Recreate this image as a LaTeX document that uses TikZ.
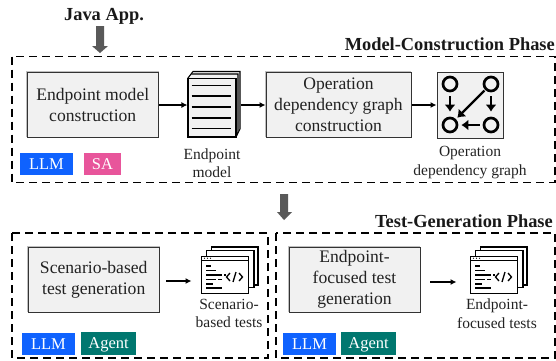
\documentclass[tikz,border=0pt]{standalone}
\usepackage{fontspec}
\setmainfont{Liberation Serif}
\usetikzlibrary{arrows.meta}
\definecolor{llmc}{HTML}{0F62FE}
\definecolor{sac}{HTML}{E8559B}
\definecolor{agc}{HTML}{00776F}
\definecolor{boxc}{HTML}{F1F1F1}
\definecolor{txtc}{HTML}{222222}
\tikzset{
  phase/.style={draw=black,line width=1.4pt,dash pattern=on 8pt off 5pt},
  procbox/.style={draw=black!80,line width=1pt,fill=boxc,inner sep=0pt,text=txtc,align=center,font=\fontsize{17.6}{21}\selectfont},
  boxedge/.style={draw=black!25,line width=1pt},
  chip/.style={inner sep=0pt,text=white,text height=10.5pt,text depth=0pt,font=\fontsize{16.5}{18}\selectfont},
  captxt/.style={text=txtc,align=center,inner sep=0pt,font=\fontsize{15.5}{18.5}\selectfont},
  title/.style={inner sep=0pt,font=\fontsize{18.4}{20}\selectfont\bfseries,text=black!90},
  flow/.style={-{Latex[length=6pt,width=6pt]},line width=1.6pt,black},
  bigarrow/.style={fill=black!65,draw=none},
  page/.style={draw=black,line width=1.1pt,fill=boxc},
  win/.style={draw=black,line width=1.4pt,fill=white},
  icon/.style={draw=black!80,line width=1pt,fill=boxc},
  ring/.style={circle,draw=black,line width=2.7pt,minimum size=14pt,inner sep=0pt},
  iarrow/.style={-{Latex[length=7pt,width=11pt]},line width=2.2pt,black,shorten >=5pt,shorten <=4pt},
  tl/.style={line width=1.1pt,black},
}
% box: name, x0,y0,x1,y1, text
\newcommand{\pbox}[6]{%
  \draw[boxedge] (#2-0.8,#5) -- (#2-0.8,#3-0.8) -- (#4,#3-0.8);
  \node[procbox,minimum width=#4-#2,minimum height=#5-#3] (#1) at ({(#2+#4)/2},{(#3+#5)/2}) {#6};}
\newcommand{\chipn}[7]{%
  \node[chip,fill=#6,minimum width=#4-#2,minimum height=#5-#3] (#1) at ({(#2+#4)/2},{(#3+#5)/2}) {#7};}
% code icon: name, x0, y0 of the front window (47 x 37)
\newcommand{\codeicon}[3]{%
\begin{scope}[shift={(#2,#3)}]
  \draw[win,line width=1.2pt] (10.5,-9) rectangle (57,29);
  \draw[win,line width=1.2pt] (5.5,-5.5) rectangle (53,31.5);
  \node[win,inner sep=0pt,minimum width=47pt,minimum height=37pt,anchor=north west] (#1) at (0,0) {};
  \draw[black,line width=1.1pt] (0,4.6) -- (47,4.6);
  \foreach \a in {3.5,6.5,9.5}{\fill (\a,2.2) circle (0.7pt);}
  \foreach \yy/\xa/\xb in {10/5/10, 14.5/5/15, 19/5/21, 19/23/25, 23.5/5/15, 23.5/17/21, 28/5/12, 32/5/21}{
    \draw[tl] (\xa,\yy) -- (\xb,\yy);}
  \draw[black,line width=1.3pt] (29,17) -- (25.5,21) -- (29,25);
  \draw[black,line width=1.3pt] (32,26) -- (35,16);
  \draw[black,line width=1.3pt] (38,17) -- (41.5,21) -- (38,25);
\end{scope}}
\begin{document}
\begin{tikzpicture}[x=1pt,y=-1pt]
\useasboundingbox (0,0) rectangle (556,360);
% big arrows
\fill[bigarrow] (96,26) -- (104,26) -- (104,46) -- (108,46) -- (100,53) -- (92,46) -- (96,46) -- cycle;
\fill[bigarrow] (280,194) -- (288,194) -- (288,212) -- (292,212) -- (284,220) -- (277,212) -- (280,212) -- cycle;
\node[title] (java) at (104,16) {Java App.};
\node[title,anchor=base east] (mcp) at (555,50) {Model-Construction Phase};
\node[title,anchor=base east] (tgp) at (553,227) {Test-Generation Phase};
% phase frames
\draw[phase] (12,56.5) rectangle (555,182.3);
\draw[phase] (12,233) rectangle (268,358);
\draw[phase] (276,233) rectangle (555,358);
% top row
\pbox{emc}{27}{72}{158.5}{137}{Endpoint model\\construction}
\pbox{odc}{266}{72}{411}{137}{Operation\\dependency graph\\construction}
% endpoint document stack
\draw[page] (193,71.5) -- (240,71.5) -- (240,129) -- (236,137) -- (188,137) -- (188,78) -- cycle;
\draw[page] (191,74) -- (238,74) -- (238,132) -- (236,137);
\node[page,inner sep=0pt,minimum width=48pt,minimum height=58.5pt] (doc) at (212,107.7) {};
\foreach \yy in {85.5,96,107,118,128.5}{\draw[tl] (191.5,\yy) -- (231,\yy);}
\node[captxt] (docl) at (212,163) {Endpoint\\model};
% graph icon
\node[icon,minimum width=66pt,minimum height=66pt,inner sep=0pt] (gi) at (470,105) {};
\node[ring] (r1) at (450,84) {};
\node[ring] (r2) at (491,84) {};
\node[ring] (r3) at (450,125) {};
\node[ring] (r4) at (491,125) {};
\draw[iarrow] (r1) -- (r3);
\draw[iarrow] (r2) -- (r4);
\draw[iarrow,shorten <=1pt,shorten >=2pt] (r2) -- (r3);
\draw[iarrow,shorten <=3pt,shorten >=3pt] (r4) -- (r3);
\node[captxt] (gil) at (470,162.5) {Operation\\dependency graph};
\coordinate (ds) at (241,105);
\coordinate (de) at (185,105);
\draw[flow] (emc.east |- de) -- (doc.west |- de);
\draw[flow] (ds) -- (odc.west |- ds);
\draw[flow] (odc.east |- de) -- (gi.west |- de);
\chipn{c1}{20}{153}{73}{175}{llmc}{LLM}
\chipn{c2}{84}{153}{121}{175}{sac}{SA}
% bottom left
\pbox{sb}{28}{247}{159.5}{312}{Scenario-based\\test generation}
\codeicon{ci1}{201}{256}
\coordinate (a1s) at (166,281);
\coordinate (a1e) at (191.5,281);
\draw[flow] (a1s) -- (a1e);
\node[captxt] (ci1l) at (229,313.5) {Scenario-\\based tests};
\chipn{c3}{22}{333}{75}{355}{llmc}{LLM}
\chipn{c4}{81}{332}{136}{355}{agc}{Agent}
% bottom right
\pbox{ef}{289}{247}{420}{312}{Endpoint-\\focused test\\generation}
\codeicon{ci2}{470}{256}
\coordinate (a2s) at (430,282);
\coordinate (a2e) at (456.5,282);
\draw[flow] (a2s) -- (a2e);
\node[captxt] (ci2l) at (497,313.5) {Endpoint-\\focused tests};
\chipn{c5}{283}{333}{336}{355}{llmc}{LLM}
\chipn{c6}{341}{332}{396}{355}{agc}{Agent}
\end{tikzpicture}
\end{document}
